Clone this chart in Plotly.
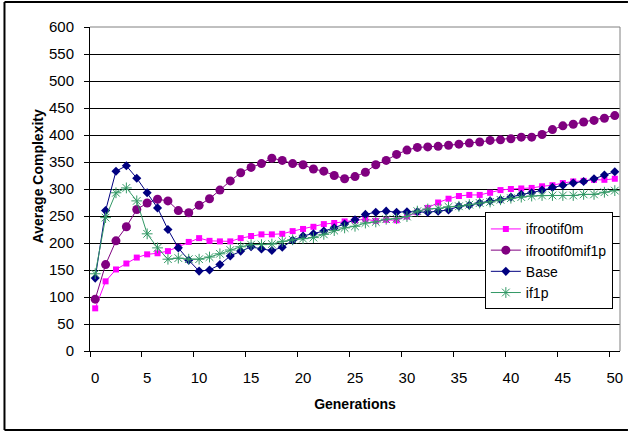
import plotly.graph_objects as go

generations = list(range(51))

ifrootif0m = [79, 129, 151, 162, 173, 179, 181, 185, 193, 202,
              209, 204, 203, 203, 209, 213, 216, 216, 217, 222,
              226, 230, 235, 237, 240, 242, 244, 241, 243, 242,
              249, 257, 265, 275, 282, 287, 289, 289, 293, 298,
              300, 301, 302, 305, 307, 311, 314, 315, 317, 317, 319]

ifrootif0mif1p = [96, 160, 204, 230, 262, 274, 281, 278, 260, 256,
                  270, 282, 298, 315, 330, 340, 347, 357, 353, 347,
                  345, 337, 333, 325, 319, 323, 331, 345, 353, 364,
                  372, 377, 378, 379, 381, 383, 385, 387, 390, 391,
                  393, 396, 396, 401, 410, 417, 420, 424, 427, 431, 436]

base = [135, 260, 333, 343, 320, 293, 265, 225, 191, 168,
        148, 150, 160, 176, 185, 193, 189, 186, 192, 205,
        213, 217, 222, 228, 235, 243, 253, 257, 259, 257,
        258, 258, 257, 259, 261, 268, 270, 274, 278, 280,
        285, 290, 293, 298, 303, 307, 311, 314, 319, 326, 332]

if1p = [143, 247, 293, 302, 278, 217, 191, 170, 172, 170,
        170, 174, 180, 187, 193, 197, 197, 198, 203, 206,
        208, 210, 216, 223, 228, 231, 237, 239, 244, 245,
        249, 259, 263, 264, 267, 268, 271, 274, 276, 280,
        283, 285, 287, 288, 288, 288, 288, 290, 290, 294, 297]

x_tick_vals = list(range(0, 51, 5))
y_tick_vals = list(range(0, 601, 50))

FONT = "Liberation Sans, Arial, sans-serif"

fig = go.Figure()
fig.add_trace(go.Scatter(x=generations, y=ifrootif0m, name="ifrootif0m", mode="lines+markers",
                         line=dict(color="#FF00FF", width=1),
                         marker=dict(symbol="square", size=6, color="#FF00FF")))
fig.add_trace(go.Scatter(x=generations, y=ifrootif0mif1p, name="ifrootif0mif1p", mode="lines+markers",
                         line=dict(color="#800080", width=1),
                         marker=dict(symbol="circle", size=9, color="#800080")))
fig.add_trace(go.Scatter(x=generations, y=base, name="Base", mode="lines+markers",
                         line=dict(color="#000080", width=1),
                         marker=dict(symbol="diamond", size=7, color="#000080")))
fig.add_trace(go.Scatter(x=generations, y=if1p, name="if1p", mode="lines+markers",
                         line=dict(color="#339966", width=1),
                         marker=dict(symbol="asterisk-open", size=9, color="#339966",
                                     line=dict(color="#339966", width=1))))

px_x = lambda p: (p - 90) / 533
px_y = lambda p: (351 - p) / 324

fig.update_layout(
    width=631, height=431,
    margin=dict(l=90, r=8, t=27, b=80),
    paper_bgcolor="white", plot_bgcolor="white",
    font=dict(family=FONT, size=15, color="black"),
    showlegend=True,
    legend=dict(x=0.745, y=0.428, xanchor="left", yanchor="top",
                bgcolor="white", bordercolor="black", borderwidth=1,
                font=dict(family=FONT, size=14, color="black"),
                tracegroupgap=0, itemwidth=30),
    xaxis=dict(range=[-0.5, 50.5], tickmode="array", tickvals=x_tick_vals,
               ticks="", showgrid=False, zeroline=False,
               showline=True, linecolor="black", linewidth=1,
               ticklabelstandoff=13,
               tickfont=dict(family=FONT, size=15, color="black"),
               minor=dict(tick0=-0.5, dtick=5, ticks="outside", ticklen=5,
                          tickcolor="black", tickwidth=1, showgrid=False),
               title=dict(text="<b>Generations</b>", standoff=14,
                          font=dict(family=FONT, size=14, color="black"))),
    yaxis=dict(range=[0, 600], tickmode="array", tickvals=y_tick_vals,
               ticks="outside", ticklen=5, tickcolor="black", tickwidth=1,
               showgrid=True, gridcolor="#000000", gridwidth=1, zeroline=False,
               showline=True, linecolor="black", linewidth=1,
               ticklabelstandoff=7,
               tickfont=dict(family=FONT, size=15, color="black")),
    annotations=[dict(text="<b>Average Complexity</b>", xref="paper", yref="paper",
                      x=-0.0976, y=0.54, xanchor="center", yanchor="middle",
                      textangle=-90, showarrow=False,
                      font=dict(family=FONT, size=14, color="black"))],
    shapes=[
        # plot-area border (top and right, grey)
        dict(type="line", xref="paper", yref="paper", x0=0, x1=1, y0=1, y1=1,
             line=dict(color="#808080", width=1), layer="above"),
        dict(type="line", xref="paper", yref="paper", x0=1, x1=1, y0=0, y1=1,
             line=dict(color="#808080", width=1), layer="above"),
        # chart frame: left, top and bottom edges
        dict(type="line", xref="paper", yref="paper",
             x0=px_x(4), x1=px_x(4), y0=px_y(430), y1=px_y(2),
             line=dict(color="black", width=2), layer="above"),
        dict(type="line", xref="paper", yref="paper",
             x0=px_x(4), x1=px_x(631), y0=px_y(2), y1=px_y(2),
             line=dict(color="black", width=2), layer="above"),
        dict(type="line", xref="paper", yref="paper",
             x0=px_x(4), x1=px_x(631), y0=px_y(430), y1=px_y(430),
             line=dict(color="black", width=2), layer="above"),
    ],
)

fig.write_html("out.html")
